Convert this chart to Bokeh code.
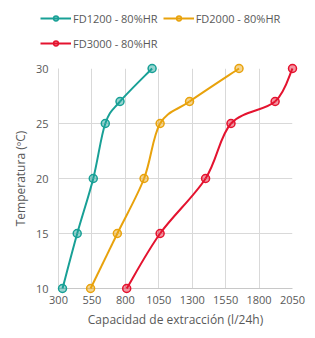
from bokeh.plotting import figure
from bokeh.layouts import column
from bokeh.models import Legend, LegendItem, FixedTicker, ColumnDataSource
from bokeh.embed import file_html
from bokeh.resources import INLINE

temps = [10, 15, 20, 25, 27, 30]
fd1200 = [330, 440, 560, 650, 760, 1000]
fd2000 = [540, 740, 940, 1060, 1280, 1650]
fd3000 = [810, 1060, 1400, 1590, 1920, 2050]
names = ["FD1200 - 80%HR", "FD2000 - 80%HR", "FD3000 - 80%HR"]
colors = ["#18a096", "#e8a20c", "#e4132f"]
x_ticks = [300, 550, 800, 1050, 1300, 1550, 1800, 2050]
y_ticks = [10, 15, 20, 25, 30]

FONT = "Open Sans"
GREY = "#595959"

W = 307
LEG_H = 55
H = 330 - LEG_H
TOP, BOTTOM, LEFT, RIGHT = 13, 41, 58, 15

p = figure(width=W, height=H, output_backend="svg", toolbar_location=None,
           x_range=(300, 2050), y_range=(10, 30),
           min_border_left=LEFT, min_border_right=RIGHT, min_border_bottom=BOTTOM, min_border_top=TOP)
p.outline_line_color = None
p.background_fill_color = "white"

p.xaxis.ticker = FixedTicker(ticks=x_ticks)
p.yaxis.ticker = FixedTicker(ticks=y_ticks)
for ax in (p.xaxis, p.yaxis):
    ax.major_tick_line_color = None
    ax.minor_tick_line_color = None
    ax.major_tick_out = 0
    ax.major_tick_in = 0
    ax.minor_tick_out = 0
    ax.minor_tick_in = 0
    ax.major_label_text_font = FONT
    ax.major_label_text_font_size = "11px"
    ax.major_label_text_color = GREY
    ax.axis_label_text_font = FONT
    ax.axis_label_text_font_size = "12px"
    ax.axis_label_text_color = GREY
    ax.axis_label_text_font_style = "normal"
p.xaxis.axis_line_color = "#c8c8c8"
p.yaxis.axis_line_color = "#d9d9d9"
p.xaxis.major_label_standoff = 7
p.yaxis.major_label_standoff = 10
p.xaxis.axis_label_standoff = 4
p.yaxis.axis_label_standoff = 4
p.xaxis.axis_label = "Capacidad de extracción (l/24h)"
p.yaxis.axis_label = "Temperatura (ºC)"

p.xgrid.grid_line_color = "#d9d9d9"
p.ygrid.grid_line_color = "#d9d9d9"


def bezier_src(xs, ys):
    # Excel-style smoothed line: cubic segments through the data points
    n = len(xs)
    d = dict(x0=[], y0=[], x1=[], y1=[], cx0=[], cy0=[], cx1=[], cy1=[])
    t = 1 / 6
    for i in range(n - 1):
        xp, yp = (xs[i - 1], ys[i - 1]) if i > 0 else (xs[i], ys[i])
        xn2, yn2 = (xs[i + 2], ys[i + 2]) if i + 2 < n else (xs[i + 1], ys[i + 1])
        d["x0"].append(xs[i]); d["y0"].append(ys[i])
        d["x1"].append(xs[i + 1]); d["y1"].append(ys[i + 1])
        d["cx0"].append(xs[i] + (xs[i + 1] - xp) * t)
        d["cy0"].append(ys[i] + (ys[i + 1] - yp) * t)
        d["cx1"].append(xs[i + 1] - (xn2 - xs[i]) * t)
        d["cy1"].append(ys[i + 1] - (yn2 - ys[i]) * t)
    return ColumnDataSource(d)


for xs, col in zip([fd1200, fd2000, fd3000], colors):
    p.bezier(x0="x0", y0="y0", x1="x1", y1="y1", cx0="cx0", cy0="cy0", cx1="cx1", cy1="cy1",
             source=bezier_src(xs, temps), line_color=col, line_width=2, level="overlay")
    p.scatter(xs, temps, marker="circle", size=8, line_color=col, line_width=1.5,
              fill_color=col, fill_alpha=0.45, level="overlay")

# legend strip above the chart
lf = figure(frame_width=W, frame_height=LEG_H, output_backend="svg", toolbar_location=None,
            x_axis_type=None, y_axis_type=None, x_range=(0, 1), y_range=(0, 1),
            min_border=0, min_border_left=0, min_border_right=0,
            min_border_top=0, min_border_bottom=0)
lf.outline_line_color = None
lf.background_fill_color = "white"
lf.grid.visible = False
nan = float("nan")
items = []
for name, col in zip(names, colors):
    ln = lf.line(x=[nan], y=[nan], line_color=col, line_width=2)
    sc = lf.scatter(x=[nan], y=[nan], marker="circle", size=8, line_color=col, line_width=1.5,
                    fill_color=col, fill_alpha=0.45)
    items.append(LegendItem(label=name, renderers=[ln, sc]))
legend = Legend(items=items, ncols=2, orientation="horizontal",
                label_text_font=FONT, label_text_font_size="11px", label_text_color=GREY,
                glyph_width=31, glyph_height=12, label_standoff=2, spacing=5,
                padding=0, margin=0, border_line_color=None, background_fill_alpha=0,
                label_height=20, location=(40, 2))
lf.add_layout(legend, "center")

layout = column(lf, p, spacing=0)
html = file_html(layout, INLINE)
open("out.html", "w").write(html)
